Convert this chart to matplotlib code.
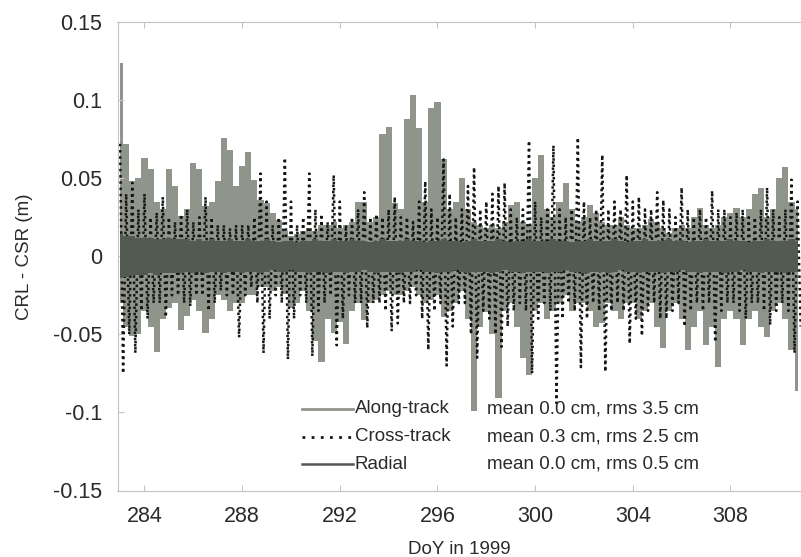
import numpy as np
import matplotlib
matplotlib.use("Agg")
import matplotlib.pyplot as plt
from matplotlib import font_manager

plt.rcParams['font.family'] = ['Liberation Sans', 'DejaVu Sans']

# sampling: one upper and one lower extreme every quarter day
start_day = 283.0
step_day = 0.25

along_hi = [0.124, 0.072, 0.048, 0.050, 0.063, 0.056, 0.035, 0.030, 0.056, 0.045,
            0.026, 0.030, 0.060, 0.056, 0.032, 0.035, 0.048, 0.076, 0.068, 0.045,
            0.058, 0.067, 0.049, 0.036, 0.034, 0.028, 0.023, 0.016, 0.013, 0.014,
            0.016, 0.018, 0.016, 0.020, 0.020, 0.022, 0.018, 0.020, 0.022, 0.035,
            0.035, 0.022, 0.025, 0.078, 0.083, 0.034, 0.030, 0.088, 0.103, 0.082,
            0.035, 0.095, 0.099, 0.062, 0.030, 0.035, 0.050, 0.030, 0.022, 0.020,
            0.018, 0.020, 0.018, 0.022, 0.033, 0.035, 0.022, 0.020, 0.050, 0.065,
            0.030, 0.025, 0.035, 0.047, 0.030, 0.022, 0.025, 0.033, 0.028, 0.022,
            0.020, 0.020, 0.025, 0.020, 0.018, 0.018, 0.020, 0.024, 0.022, 0.018,
            0.015, 0.018, 0.020, 0.018, 0.025, 0.031, 0.020, 0.018, 0.020, 0.025,
            0.028, 0.031, 0.025, 0.030, 0.040, 0.044, 0.025, 0.030, 0.050, 0.057,
            0.035, 0.030]
along_lo = [-0.030, -0.045, -0.051, -0.050, -0.035, -0.045, -0.061, -0.040, -0.033, -0.030,
            -0.047, -0.038, -0.028, -0.035, -0.049, -0.040, -0.025, -0.028, -0.035, -0.030,
            -0.030, -0.025, -0.025, -0.020, -0.020, -0.022, -0.020, -0.024, -0.033, -0.030,
            -0.022, -0.035, -0.054, -0.068, -0.040, -0.049, -0.042, -0.056, -0.035, -0.030,
            -0.041, -0.030, -0.028, -0.025, -0.022, -0.025, -0.025, -0.022, -0.020, -0.025,
            -0.030, -0.028, -0.025, -0.039, -0.035, -0.030, -0.022, -0.040, -0.099, -0.045,
            -0.036, -0.050, -0.091, -0.035, -0.030, -0.045, -0.065, -0.076, -0.035, -0.030,
            -0.040, -0.035, -0.030, -0.025, -0.035, -0.030, -0.030, -0.035, -0.045, -0.043,
            -0.030, -0.035, -0.040, -0.030, -0.030, -0.040, -0.035, -0.030, -0.045, -0.059,
            -0.035, -0.030, -0.040, -0.060, -0.045, -0.035, -0.057, -0.045, -0.071, -0.040,
            -0.035, -0.040, -0.057, -0.040, -0.035, -0.045, -0.052, -0.035, -0.030, -0.040,
            -0.060, -0.086]

cross_hi = [0.072, 0.040, 0.047, 0.030, 0.040, 0.025, 0.028, 0.038, 0.025, 0.022,
            0.027, 0.030, 0.022, 0.025, 0.038, 0.025, 0.020, 0.020, 0.018, 0.020,
            0.020, 0.020, 0.025, 0.053, 0.035, 0.020, 0.025, 0.063, 0.035, 0.020,
            0.025, 0.053, 0.030, 0.027, 0.022, 0.052, 0.035, 0.020, 0.025, 0.030,
            0.041, 0.025, 0.027, 0.025, 0.030, 0.038, 0.025, 0.025, 0.022, 0.035,
            0.048, 0.030, 0.025, 0.062, 0.040, 0.025, 0.030, 0.045, 0.057, 0.030,
            0.035, 0.040, 0.045, 0.047, 0.030, 0.025, 0.030, 0.074, 0.035, 0.025,
            0.030, 0.071, 0.030, 0.025, 0.030, 0.076, 0.035, 0.025, 0.030, 0.065,
            0.030, 0.035, 0.030, 0.052, 0.035, 0.038, 0.030, 0.030, 0.041, 0.036,
            0.030, 0.025, 0.044, 0.030, 0.025, 0.030, 0.025, 0.042, 0.030, 0.030,
            0.025, 0.028, 0.030, 0.025, 0.025, 0.030, 0.044, 0.030, 0.025, 0.030,
            0.049, 0.035]
cross_lo = [-0.075, -0.050, -0.062, -0.035, -0.040, -0.030, -0.030, -0.039, -0.025, -0.025,
            -0.030, -0.032, -0.025, -0.025, -0.035, -0.030, -0.022, -0.025, -0.025, -0.052,
            -0.025, -0.020, -0.030, -0.062, -0.040, -0.025, -0.030, -0.066, -0.040, -0.025,
            -0.030, -0.064, -0.035, -0.030, -0.025, -0.057, -0.040, -0.025, -0.030, -0.030,
            -0.046, -0.030, -0.030, -0.035, -0.048, -0.043, -0.030, -0.030, -0.025, -0.040,
            -0.060, -0.035, -0.030, -0.070, -0.045, -0.030, -0.030, -0.050, -0.065, -0.035,
            -0.040, -0.050, -0.058, -0.045, -0.035, -0.030, -0.035, -0.075, -0.040, -0.030,
            -0.035, -0.094, -0.040, -0.030, -0.035, -0.071, -0.040, -0.030, -0.035, -0.074,
            -0.035, -0.030, -0.035, -0.056, -0.040, -0.051, -0.035, -0.030, -0.040, -0.040,
            -0.035, -0.030, -0.045, -0.035, -0.030, -0.035, -0.030, -0.055, -0.035, -0.030,
            -0.030, -0.035, -0.040, -0.030, -0.030, -0.035, -0.044, -0.035, -0.030, -0.035,
            -0.062, -0.045]

radial_hi = [0.014, 0.013, 0.013, 0.012, 0.012, 0.012, 0.011, 0.011, 0.012, 0.011,
             0.011, 0.011, 0.010, 0.011, 0.010, 0.011, 0.010, 0.010, 0.011, 0.010,
             0.010, 0.011, 0.010, 0.010, 0.011, 0.010, 0.009, 0.010, 0.010, 0.009,
             0.010, 0.010, 0.011, 0.010, 0.010, 0.011, 0.010, 0.010, 0.011, 0.010,
             0.010, 0.009, 0.010, 0.011, 0.010, 0.010, 0.010, 0.011, 0.010, 0.010,
             0.009, 0.010, 0.010, 0.011, 0.010, 0.010, 0.009, 0.010, 0.011, 0.010,
             0.010, 0.010, 0.011, 0.010, 0.009, 0.010, 0.010, 0.011, 0.010, 0.010,
             0.010, 0.011, 0.010, 0.010, 0.009, 0.010, 0.010, 0.011, 0.010, 0.010,
             0.010, 0.011, 0.010, 0.009, 0.010, 0.010, 0.011, 0.010, 0.010, 0.010,
             0.011, 0.010, 0.010, 0.009, 0.010, 0.010, 0.011, 0.010, 0.010, 0.010,
             0.011, 0.010, 0.010, 0.009, 0.010, 0.010, 0.011, 0.010, 0.010, 0.010,
             0.011, 0.010]
radial_lo = [-0.014, -0.013, -0.012, -0.012, -0.012, -0.011, -0.012, -0.011, -0.011, -0.011,
             -0.011, -0.010, -0.011, -0.010, -0.011, -0.010, -0.010, -0.011, -0.010, -0.010,
             -0.011, -0.010, -0.010, -0.011, -0.010, -0.009, -0.010, -0.010, -0.009, -0.010,
             -0.010, -0.011, -0.010, -0.010, -0.011, -0.010, -0.010, -0.011, -0.010, -0.010,
             -0.009, -0.010, -0.011, -0.010, -0.010, -0.010, -0.011, -0.010, -0.010, -0.009,
             -0.010, -0.010, -0.011, -0.010, -0.010, -0.009, -0.010, -0.011, -0.010, -0.010,
             -0.010, -0.011, -0.010, -0.009, -0.010, -0.010, -0.011, -0.010, -0.010, -0.010,
             -0.011, -0.010, -0.010, -0.009, -0.010, -0.010, -0.011, -0.010, -0.010, -0.010,
             -0.011, -0.010, -0.009, -0.010, -0.010, -0.011, -0.010, -0.010, -0.010, -0.011,
             -0.010, -0.010, -0.009, -0.010, -0.010, -0.011, -0.010, -0.010, -0.010, -0.011,
             -0.010, -0.010, -0.009, -0.010, -0.010, -0.011, -0.010, -0.010, -0.010, -0.011,
             -0.010, -0.010]

series_names = ["Along-track", "Cross-track", "Radial"]
series_stats = ["mean 0.0 cm, rms 3.5 cm",
                "mean 0.3 cm, rms 2.5 cm",
                "mean 0.0 cm, rms 0.5 cm"]
x_ticks = [284, 288, 292, 296, 300, 304, 308]
y_ticks = [-0.15, -0.1, -0.05, 0, 0.05, 0.1, 0.15]
y_ticklabels = ["-0.15", "-0.1", "-0.05", "0", "0.05", "0.1", "0.15"]

c_along = "#8f958a"
c_cross = "#151515"
c_radial = "#525a51"
c_text = "#2a2a2a"

# narrow font for labels / legend when available
names = {f.name for f in font_manager.fontManager.ttflist}
if 'Liberation Sans Narrow' in names:
    narrow = ['Liberation Sans Narrow', 'Liberation Sans']
    nsize = 16
else:
    narrow = ['Liberation Sans', 'DejaVu Sans']
    nsize = 13.5

doy = start_day + step_day * np.arange(len(along_hi))


def zigzag(hi, lo):
    x = np.column_stack([doy, doy + step_day / 2]).ravel()
    y = np.column_stack([hi, lo]).ravel()
    return x, y


fig = plt.figure(figsize=(8.01, 5.57), dpi=100)
ax = fig.add_axes([117.5 / 801, 66.5 / 557, 683.5 / 801, 468.5 / 557])

ax.fill_between(doy, along_lo, along_hi, step='mid', color=c_along, lw=0, zorder=1)
xc, yc = zigzag(cross_hi, cross_lo)
ax.plot(xc, yc, color=c_cross, lw=1.8, linestyle=(0, (1.0, 1.5)), zorder=2)
ax.fill_between(doy, radial_lo, radial_hi, step='mid', color=c_radial, lw=0, zorder=3)

ax.set_xlim(282.895, 310.89)
ax.set_ylim(-0.15, 0.15)
ax.set_xticks(x_ticks)
ax.set_yticks(y_ticks)
ax.set_yticklabels(y_ticklabels)
ax.tick_params(direction='in', length=4, color='#c4c4c4', labelsize=15.5,
               labelcolor=c_text, top=True)
ax.tick_params(axis='y', pad=11)
ax.tick_params(axis='x', pad=11)
for s in ['left', 'bottom', 'top']:
    ax.spines[s].set_color('#c4c4c4')
    ax.spines[s].set_linewidth(0.8)
ax.spines['right'].set_visible(False)

ax.set_xlabel("DoY in 1999", fontsize=nsize, family=narrow, color=c_text, labelpad=10)
ax.set_ylabel("CRL - CSR (m)", fontsize=nsize, family=narrow, color=c_text, labelpad=14)

# legend
leg_y = [0.175, 0.115, 0.056]
styles = [dict(color=c_along, lw=2.0),
          dict(color=c_cross, lw=2.0, linestyle=(0, (1.0, 2.3))),
          dict(color=c_radial, lw=1.8)]
for name, stat, yy, st in zip(series_names, series_stats, leg_y, styles):
    ax.plot([0.270, 0.344], [yy, yy], transform=ax.transAxes, **st)
    ax.text(0.347, yy, name, transform=ax.transAxes, va='center', ha='left',
            fontsize=nsize, family=narrow, color=c_text)
    ax.text(0.541, yy, stat, transform=ax.transAxes, va='center', ha='left',
            fontsize=nsize, family=narrow, color=c_text)

fig.savefig("out.png", dpi=100)
